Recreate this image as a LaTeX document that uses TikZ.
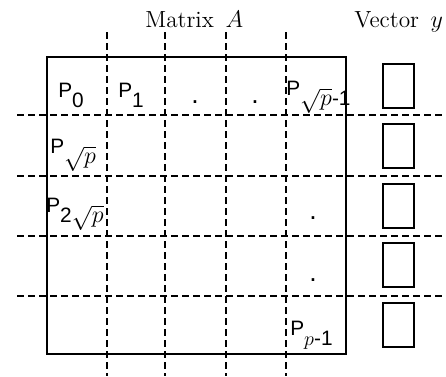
\documentclass[tikz,border=0pt]{standalone}
\usepackage{fontspec}
\newfontfamily\lsans{Liberation Sans}
\newcommand{\Plab}[1]{{\lsans\fontsize{12.5}{14}\selectfont P}\raisebox{-6pt}{\fontsize{12.5}{14}\selectfont #1}}
\newcommand{\sqp}{{\fontsize{14}{16}\selectfont$\sqrt{p}$}}
\begin{document}
\begin{tikzpicture}[x=0.6pt,y=-0.6pt,
  grid/.style={dashed,dash pattern=on 4.2pt off 2.4pt,line width=0.8pt},
  frame/.style={line width=1.1pt},
  vbox/.style={draw,line width=0.9pt,minimum width=18.6pt,minimum height=26.4pt,inner sep=0pt},
  lab/.style={anchor=base west,inner sep=0pt},
  dotlab/.style={anchor=base,inner sep=0pt,font=\lsans\fontsize{16}{18}\selectfont},
  title/.style={anchor=base west,inner sep=0pt,font=\fontsize{14}{16}\selectfont}]
\useasboundingbox (0,0) rectangle (446,376);
% matrix frame
\draw[frame] (47,57) rectangle (346,354);
% dashed grid
\foreach \x in {107,165,226,286} \draw[grid] (\x,32) -- (\x,376);
\foreach \y in {115,176,236,296} \draw[grid] (17,\y) -- (446,\y);
% titles
\node[title] (tA) at (145,27) {Matrix\hspace{7pt}$A$};
\node[title] (ty) at (354,27) {Vector\hspace{7pt}$y$};
% labels
\node[lab] (p0) at (58,97) {\Plab{\lsans 0}};
\node[lab] (p1) at (118,97) {\Plab{\lsans 1}};
\node[dotlab] (d1) at (195,103) {.};
\node[dotlab] (d2) at (255,103) {.};
\node[lab] (psq1) at (286,95) {\Plab{\sqp\lsans -1}};
\node[lab] (psq) at (50,153) {\Plab{\sqp}};
\node[lab] (p2sq) at (46,212) {\Plab{\lsans 2\sqp}};
\node[dotlab] (d3) at (313,219) {.};
\node[dotlab] (d4) at (313,281) {.};
\node[lab] (pp1) at (290,335) {\Plab{$p$\lsans -1}};
% vector boxes
\node[vbox] (v1) at (398.5,86) {};
\node[vbox] (v2) at (398.5,146) {};
\node[vbox] (v3) at (398.5,206) {};
\node[vbox] (v4) at (398.5,265) {};
\node[vbox] (v5) at (398.5,325) {};
\end{tikzpicture}
\end{document}
